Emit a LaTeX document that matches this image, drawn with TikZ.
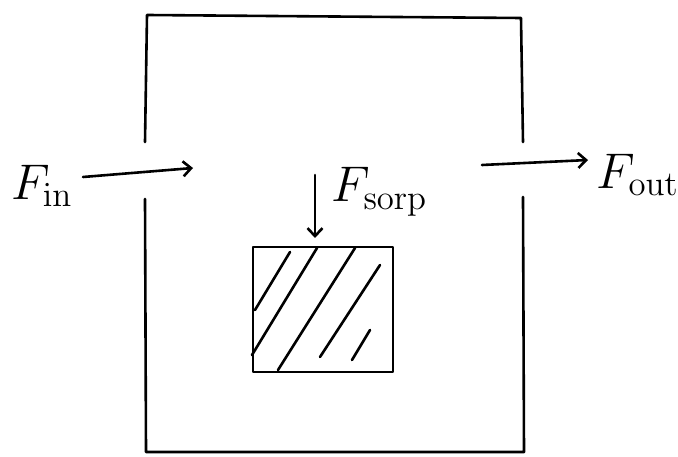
\documentclass[tikz,border=0pt]{standalone}
\usepackage{amsmath}
\usetikzlibrary{arrows.meta}

\begin{document}
\begin{tikzpicture}[x=1pt, y=-1pt, line width=2.6pt, line cap=round, line join=round,
  >={Straight Barb[length=8pt, width=15pt]},
  lbl/.style={inner sep=0pt, font=\LARGE, scale=2.9}]
\useasboundingbox (0,0) rectangle (678,457);
% container walls, open where the flows pass
\draw (145,142) -- (147,15) -- (521,18) -- (523,142);
\draw (523,197) -- (524,452) -- (146,452) -- (145,199);
% sorbent block
\coordinate (S1) at (253,247);
\coordinate (S2) at (393,372);
\draw (S1) rectangle (S2);
\draw (290,252) -- (255,310);
\draw (317,248) -- (252,355);
\draw (355,248) -- (278,370);
\draw (380,265) -- (320,357);
\draw (370,330) -- (352,360);
% flows
\node[lbl] (fin) at (42,186) {$F_{\mathrm{in}}$};
\node[lbl] (fout) at (638,175) {$F_{\mathrm{out}}$};
\node[lbl, anchor=west] (fsorp) at (328,192) {$F_{\mathrm{sorp}}$};
\coordinate (A1) at (83,177);
\coordinate (A2) at (193,168);
\coordinate (B1) at (482,165);
\coordinate (B2) at (588,160);
\coordinate (C1) at (315,175);
\coordinate (C2) at (315,238);
\draw[->] (A1) -- (A2);
\draw[->] (B1) -- (B2);
\draw[->] (C1) -- (C2);
\end{tikzpicture}
\end{document}
